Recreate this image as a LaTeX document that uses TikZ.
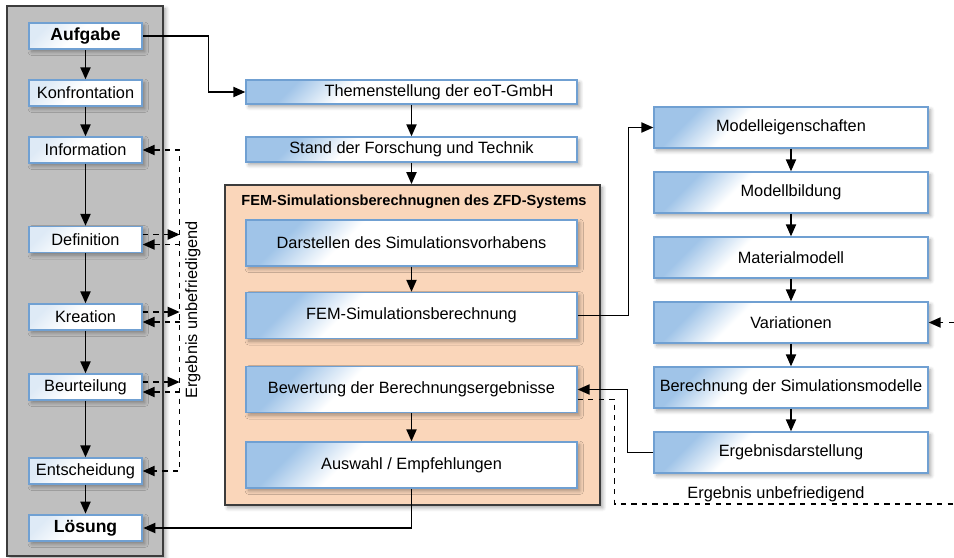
\documentclass[tikz,border=0pt]{standalone}
\usepackage{fontspec}
\setmainfont{Liberation Sans}
\usetikzlibrary{shadows,shadows.blur,arrows.meta,calc}

\definecolor{boxblue}{RGB}{112,160,210}
\definecolor{fadeblue}{RGB}{160,196,232}
\definecolor{paleblue}{RGB}{222,234,246}
\definecolor{panelgray}{RGB}{191,191,191}
\definecolor{panelpeach}{RGB}{250,214,186}
\definecolor{framegray}{RGB}{60,60,60}

% blue corner fading into white
\pgfdeclarehorizontalshading{boxfade}{100bp}{color(0bp)=(fadeblue); color(25bp)=(fadeblue); color(37bp)=(white); color(100bp)=(white)}
\pgfdeclarehorizontalshading{stagefade}{100bp}{color(0bp)=(paleblue); color(25bp)=(paleblue); color(45bp)=(white); color(100bp)=(white)}

\tikzset{
    boxshadow/.style={blur shadow={shadow xshift=1.6pt, shadow yshift=-1.6pt, shadow blur steps=6, shadow opacity=35}},
    stage/.style={draw=boxblue, thick, shading=stagefade, shading angle=-45, minimum width=2.26cm, minimum height=0.52cm, inner sep=0pt, boxshadow},
    keystage/.style={stage, line width=1.6pt, font=\bfseries},
    task/.style={draw=boxblue, thick, shading=boxfade, shading angle=-45, minimum width=6.62cm, minimum height=0.92cm, inner sep=0pt, boxshadow},
    modelbox/.style={task, minimum width=5.48cm, minimum height=0.82cm},
    flow/.style={-{Triangle[length=6.8pt,width=5.8pt]}, thick},
    back/.style={thick, dashed, >={Triangle[length=6.8pt,width=5.8pt]}},
}

\begin{document}
\begin{tikzpicture}[x=0.02cm, y=-0.02cm, font=\fontsize{9.3}{11}\selectfont]
    \useasboundingbox (0,0) rectangle (954,558);

    % Grey process column and the FEM group behind the boxes
    \node[draw=framegray, line width=1.1pt, fill=panelgray, minimum width=3.12cm, minimum height=11cm, boxshadow] (proc) at (85,281) {};
    \node[draw=framegray, line width=1.1pt, fill=panelpeach, minimum width=7.5cm, minimum height=6.4cm, boxshadow] (fem) at (412.5,345) {};
    \node[font=\fontsize{8.3}{10}\selectfont\bfseries] (femtitle) at (414,202) {FEM-Simulationsberechnugnen des ZFD-Systems};

    % Left column
    \node[keystage] (auf) at (85.5,36) {Aufgabe};
    \node[stage] (kon) at (85.5,93) {Konfrontation};
    \node[stage] (inf) at (85.5,150) {Information};
    \node[stage] (def) at (85.5,239.5) {Definition};
    \node[stage] (kre) at (85.5,317) {Kreation};
    \node[stage] (beu) at (85.5,387) {Beurteilung};
    \node[stage] (ent) at (85.5,471) {Entscheidung};
    \node[keystage] (loe) at (85.5,528) {Lösung};

    % Middle column
    \node[task, minimum height=0.48cm] (thema) at (411.5,92) {\hspace*{1.1cm}Themenstellung der eoT-GmbH};
    \node[task, minimum height=0.5cm] (stand) at (411.5,149.5) {Stand der Forschung und Technik};
    \node[task] (dar) at (411.5,243) {Darstellen des Simulationsvorhabens};
    \node[task] (sim) at (411.5,315.5) {FEM-Simulationsberechnung};
    \node[task] (bew) at (411.5,389.5) {Bewertung der Berechnungsergebnisse};
    \node[task] (ausw) at (411.5,465) {Auswahl / Empfehlungen};

    % Right column
    \node[modelbox] (eig) at (791,127.5) {Modelleigenschaften};
    \node[modelbox] (bil) at (791,192.5) {Modellbildung};
    \node[modelbox] (mat) at (791,257.5) {Materialmodell};
    \node[modelbox] (var) at (791,322.5) {Variationen};
    \node[modelbox] (rech) at (791,387.5) {Berechnung der Simulationsmodelle};
    \node[modelbox] (erg) at (791,452.5) {Ergebnisdarstellung};

    \coordinate (edgeU) at (954,322.5);
    \coordinate (edgeL) at (954,504);

    % Main flow
    \foreach \a/\b in {auf/kon, kon/inf, inf/def, def/kre, kre/beu, beu/ent, ent/loe, thema/stand, dar/sim, bew/ausw, eig/bil, bil/mat, mat/var, var/rech, rech/erg}
        \draw[flow] (\a) -- (\b);
    \draw[flow] (stand.south) -- (stand.south |- fem.north);
    \draw[flow] (auf.east) -- ++(65,0) |- (thema.west);
    \draw[flow] (ausw.south) |- (loe.east);
    \draw[flow] (sim.east) -- ++(51,0) |- (eig.west);
    \draw[flow] (erg.west) -- ++(-26,0) |- (bew.east);

    % Feedback loops
    \draw[back, <->] (inf.east) -- ++(37,0) |- (ent.east);
    \foreach \s in {def, kre, beu} {
        \draw[back, ->] ($(\s.east)+(0,-5)$) -- ++(37,0);
        \draw[back, <-] ($(\s.east)+(0,5)$) -- ++(37,0);
    }
    \node[rotate=90] (unbefL) at (193,310) {Ergebnis unbefriedigend};

    \draw[back] ($(bew.east)+(0,10)$) -- ++(37,0) |- (edgeL);
    \draw[back, ->] (edgeU) -- (var.east);
    \node (unbefR) at (776,494) {Ergebnis unbefriedigend};
\end{tikzpicture}
\end{document}
